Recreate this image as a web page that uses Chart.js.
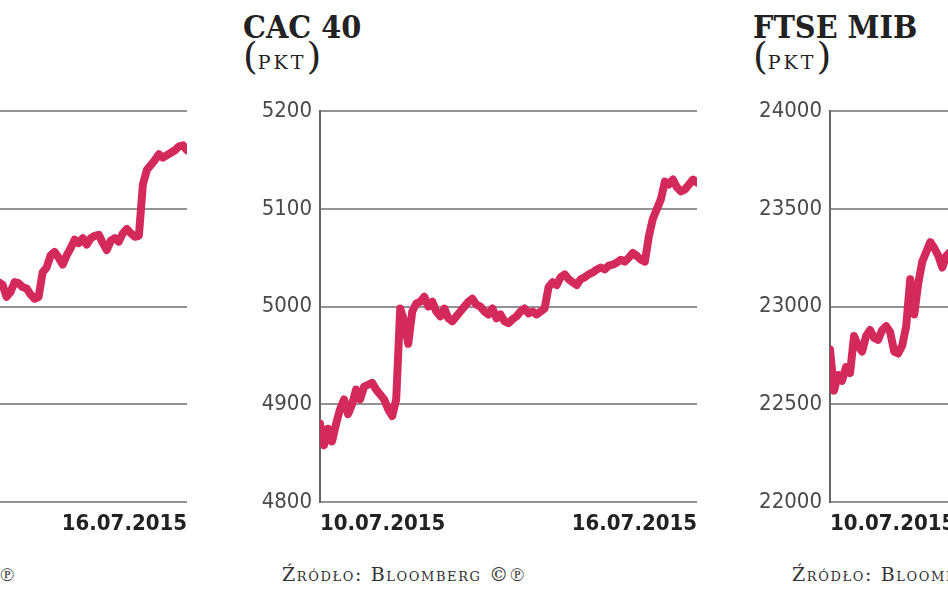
<!DOCTYPE html>
<html>
<head>
<meta charset="utf-8">
<script src="https://cdn.jsdelivr.net/npm/chart.js@4"></script>
<style>
  html, body { margin:0; padding:0; width:948px; height:593px; overflow:hidden; background:#fff; }
  body { position:relative; }
  .panel { position:absolute; top:0; width:470px; height:593px; }
  .title { position:absolute; left:0; top:11px; font-family:'DejaVu Serif Condensed','DejaVu Serif',serif; font-weight:bold; font-size:32px; line-height:32px; color:#222; white-space:nowrap; }
  .sub { position:absolute; left:0; top:37px; font-family:'DejaVu Serif',serif; font-size:19px; line-height:38px; color:#222; letter-spacing:3px; white-space:nowrap; }
  .sub .par { font-size:38px; font-weight:normal; letter-spacing:0; }
  .box { position:absolute; left:0; top:90px; width:470px; height:450px; }
  .src { position:absolute; left:39px; top:565px; font-family:'DejaVu Serif',serif; font-size:19px; line-height:19px; letter-spacing:1.6px; font-variant:small-caps; color:#333; white-space:nowrap; }
</style>
</head>
<body>
<div class="panel" style="left:-267px">
  <div class="title">DAX</div>
  <div class="sub"><span class="par">(</span>PKT<span class="par">)</span></div>
  <div class="box"><canvas id="c1"></canvas></div>
  <div class="src">Źródło: Bloomberg ©℗</div>
</div>
<div class="panel" style="left:243px">
  <div class="title">CAC 40</div>
  <div class="sub"><span class="par">(</span>PKT<span class="par">)</span></div>
  <div class="box"><canvas id="c2"></canvas></div>
  <div class="src">Źródło: Bloomberg ©℗</div>
</div>
<div class="panel" style="left:753px">
  <div class="title">FTSE MIB</div>
  <div class="sub"><span class="par">(</span>PKT<span class="par">)</span></div>
  <div class="box"><canvas id="c3"></canvas></div>
  <div class="src">Źródło: Bloomberg ©℗</div>
</div>
<script>
const dates = ['10.07.2015', '16.07.2015'];

const daxTicks = [11000, 11200, 11400, 11600, 11800];
const cacTicks = [4800, 4900, 5000, 5100, 5200];
const ftseTicks = [22000, 22500, 23000, 23500, 24000];

const daxValues = [
  11320, 11300, 11280, 11310, 11330, 11350, 11340, 11370, 11390, 11380,
  11400, 11390, 11380, 11360, 11370, 11340, 11330, 11320, 11330, 11310,
  11480, 11460, 11440, 11470, 11490, 11500, 11480, 11470, 11460, 11480,
  11470, 11450, 11440, 11460, 11470, 11450, 11440, 11430, 11450, 11460,
  11440, 11430, 11420, 11440, 11450, 11430, 11440, 11450,
  11445, 11420, 11430, 11450, 11448, 11440, 11437, 11425, 11416, 11420,
  11470, 11480, 11505, 11512, 11500, 11486, 11505, 11520, 11537, 11530,
  11540, 11527, 11540, 11545, 11547, 11530, 11516, 11535, 11540, 11533,
  11550, 11559, 11550, 11543, 11545, 11650, 11680, 11690, 11700, 11712,
  11705, 11710, 11715, 11720, 11728, 11730, 11720
];

const cacValues = [
  4880, 4858, 4875, 4862, 4880, 4895, 4905, 4890, 4900, 4915,
  4905, 4918, 4920, 4922, 4915, 4910, 4905, 4895, 4888, 4905,
  4998, 4985, 4962, 4995, 5003, 5005, 5010, 5000, 5005, 4995,
  4990, 4998, 4988, 4985, 4990, 4995, 5000, 5005, 5008, 5002,
  5000, 4995, 4992, 4998, 4988, 4992, 4985, 4983, 4987, 4990,
  4995, 4998, 4993, 4995, 4992, 4995, 4998, 5020, 5025, 5022,
  5030, 5033, 5028, 5025, 5022, 5028, 5030, 5033, 5035, 5038,
  5040, 5038, 5042, 5043, 5045, 5048, 5046, 5050, 5055, 5052,
  5048, 5046, 5072, 5090, 5100, 5110, 5128, 5125, 5130, 5122,
  5118, 5120, 5125, 5130, 5127
];

const ftseValues = [
  22780, 22570, 22650, 22620, 22690, 22660, 22850, 22800, 22770, 22850,
  22880, 22840, 22830, 22880, 22900, 22870, 22770, 22760, 22800, 22900,
  23140, 22960, 23120, 23230, 23280, 23330, 23300, 23260, 23200, 23260,
  23280, 23230, 23250, 23200, 23180, 23220, 23260, 23240, 23210, 23190,
  23230, 23250, 23270, 23240, 23220, 23200, 23230, 23260, 23300, 23320,
  23290, 23310, 23340, 23360, 23330, 23350, 23380, 23360, 23340, 23370,
  23390, 23400, 23380, 23360, 23390, 23410, 23430, 23400, 23420, 23440,
  23420, 23450, 23470, 23460, 23440, 23480, 23500, 23560, 23600, 23620,
  23640, 23610, 23630, 23650, 23620, 23640, 23660, 23650, 23630, 23660,
  23650, 23670, 23680, 23660, 23650
];

const LINE_COLOR = '#d42a5b';
const NUM_FONT = "'DejaVu Sans Condensed','Liberation Sans',sans-serif";

function makeChart(id, values, yTicks) {
  const n = values.length;
  return new Chart(document.getElementById(id), {
    type: 'line',
    data: {
      datasets: [{
        data: values.map((v, i) => ({ x: i, y: v })),
        borderColor: LINE_COLOR,
        borderWidth: 8,
        pointRadius: 0,
        tension: 0,
        borderJoinStyle: 'round',
        borderCapStyle: 'round',
        fill: false
      }]
    },
    options: {
      responsive: true,
      maintainAspectRatio: false,
      animation: false,
      layout: { padding: { top: 16, bottom: 4, left: 0, right: 16 } },
      plugins: { legend: { display: false }, tooltip: { enabled: false } },
      scales: {
        x: {
          type: 'linear',
          min: 0,
          max: n - 1,
          grid: { display: false, drawTicks: false },
          border: { display: false },
          afterBuildTicks: (a) => { a.ticks = [{ value: 0 }, { value: n - 1 }]; },
          afterFit: (s) => { s.height = 34; },
          ticks: {
            align: 'inner',
            maxRotation: 0,
            autoSkip: false,
            padding: 9,
            color: '#222',
            font: { family: NUM_FONT, size: 22, weight: 'bold' },
            callback: (v) => (v === 0 ? dates[0] : dates[1])
          }
        },
        y: {
          min: yTicks[0],
          max: yTicks[yTicks.length - 1],
          afterBuildTicks: (a) => { a.ticks = yTicks.map((v) => ({ value: v })); },
          afterFit: (s) => { s.width = 77; },
          grid: { color: '#939393', lineWidth: 2, drawTicks: false },
          border: { color: '#666666', width: 2 },
          ticks: {
            padding: 8,
            color: '#4a4a4a',
            font: { family: NUM_FONT, size: 22 },
            callback: (v) => String(v)
          }
        }
      }
    }
  });
}

makeChart('c1', daxValues, daxTicks);
makeChart('c2', cacValues, cacTicks);
makeChart('c3', ftseValues, ftseTicks);
</script>
</body>
</html>
